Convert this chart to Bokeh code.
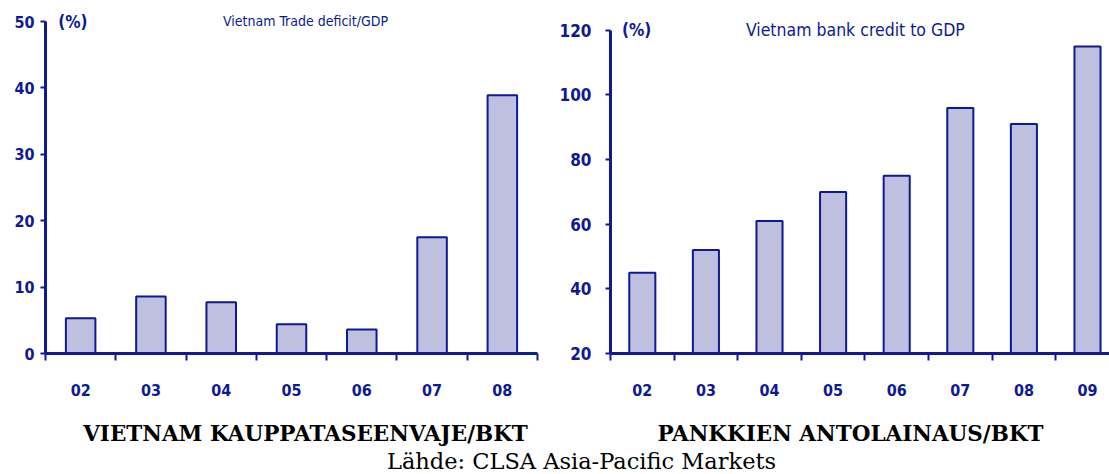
from bokeh.plotting import figure
from bokeh.models import FixedTicker, Range1d
from bokeh.layouts import row, column
from bokeh.core.properties import value
from bokeh.embed import file_html
from bokeh.resources import INLINE

# Trade deficit as % of GDP
deficit_years = ["02", "03", "04", "05", "06", "07", "08"]
deficit_pct = [5.3, 8.6, 7.7, 4.4, 3.6, 17.5, 38.9]

# Bank credit as % of GDP
credit_years = ["02", "03", "04", "05", "06", "07", "08", "09"]
credit_pct = [45, 52, 61, 70, 75, 96, 91, 115]

deficit_yticks = [0, 10, 20, 30, 40, 50]
credit_yticks = [20, 40, 60, 80, 100, 120]

BLUE = "#0D1A94"
FILL = "#BFC0E0"
NARROW = "Liberation Sans Narrow, DejaVu Sans Condensed, sans-serif"


def bar_panel(cats, vals, yticks, ybase, width, x_end, y_end,
              min_left, min_right, min_bottom, bar_w, ylabel_size, ylabel_standoff):
    p = figure(width=width, height=410, output_backend="svg", toolbar_location=None,
               x_range=Range1d(0, x_end), y_range=Range1d(ybase, y_end),
               min_border_left=min_left, min_border_right=min_right,
               min_border_top=5, min_border_bottom=min_bottom)
    p.outline_line_color = None
    p.grid.visible = False
    p.background_fill_color = "white"
    p.border_fill_color = "white"

    xs = [i + 0.5 for i in range(len(cats))]
    p.vbar(x=xs, top=vals, bottom=ybase, width=bar_w,
           fill_color=FILL, line_color=BLUE, line_width=2)

    # category labels at bar centres, boundary tick marks as minor ticks
    xa = p.xaxis[0]
    xa.ticker = FixedTicker(ticks=xs, minor_ticks=list(range(len(cats) + 1)))
    xa.major_label_overrides = {x: c for x, c in zip(xs, cats)}
    xa.major_tick_out = 0
    xa.major_tick_in = 0
    xa.minor_tick_out = 7
    xa.minor_tick_in = 0
    xa.minor_tick_line_color = BLUE
    xa.minor_tick_line_width = 2
    xa.axis_line_color = BLUE
    xa.axis_line_width = 3
    xa.major_label_standoff = 23
    xa.major_label_text_font = NARROW
    xa.major_label_text_font_size = "16px"
    xa.major_label_text_font_style = "bold"
    xa.major_label_text_color = BLUE

    ya = p.yaxis[0]
    ya.ticker = FixedTicker(ticks=yticks)
    ya.bounds = (yticks[0], yticks[-1])
    ya.major_tick_out = 5
    ya.major_tick_in = 0
    ya.minor_tick_out = 0
    ya.minor_tick_in = 0
    ya.major_tick_line_color = BLUE
    ya.major_tick_line_width = 2
    ya.axis_line_color = BLUE
    ya.axis_line_width = 3
    ya.major_label_standoff = ylabel_standoff
    ya.major_label_text_font = NARROW
    ya.major_label_text_font_size = ylabel_size
    ya.major_label_text_font_style = "bold"
    ya.major_label_text_color = BLUE

    p.text(x=[0.18], y=[yticks[-1]], text=["(%)"], text_font=value(NARROW),
           text_font_size="17px", text_font_style="bold", text_color=BLUE,
           text_baseline="middle", text_align="left")
    return p


p1 = bar_panel(deficit_years, deficit_pct, deficit_yticks, 0, 555, 7,
               50 + 16 / 6.636, 45, 18, 57, 0.42, "16px", 6)
p1.text(x=[3.7], y=[50.1], text=["Vietnam Trade deficit/GDP"], text_font=value(NARROW),
        text_font_size="14px", text_color=BLUE, text_baseline="middle", text_align="center")

p2 = bar_panel(credit_years, credit_pct, credit_yticks, 20, 554, (554 - 55) / 63.6,
               120 + 25 / 3.25, 55, 0, 55, 0.41, "17px", 14)
p2.text(x=[3.85], y=[120], text=["Vietnam bank credit to GDP"], text_font=value(NARROW),
        text_font_size="17.5px", text_color=BLUE, text_baseline="middle", text_align="center")

# caption strip under both panels
p3 = figure(width=1109, height=64, output_backend="svg", toolbar_location=None,
            x_range=Range1d(0, 1109), y_range=Range1d(474, 410),
            min_border=0, min_border_left=0, min_border_right=0,
            min_border_top=0, min_border_bottom=0)
p3.axis.visible = False
p3.grid.visible = False
p3.outline_line_color = None
p3.text(x=[305, 850], y=[433, 433],
        text=["VIETNAM KAUPPATASEENVAJE/BKT", "PANKKIEN ANTOLAINAUS/BKT"],
        text_font=value("DejaVu Serif"), text_font_size="21.5px",
        text_font_style="bold", text_color="black",
        text_align="center", text_baseline="middle")
p3.text(x=[581], y=[460], text=["Lähde: CLSA Asia-Pacific Markets"],
        text_font=value("DejaVu Serif"), text_font_size="22.5px",
        text_color="black", text_align="center", text_baseline="middle")

layout = column(row(p1, p2), p3)
open("out.html", "w").write(file_html(layout, INLINE))
